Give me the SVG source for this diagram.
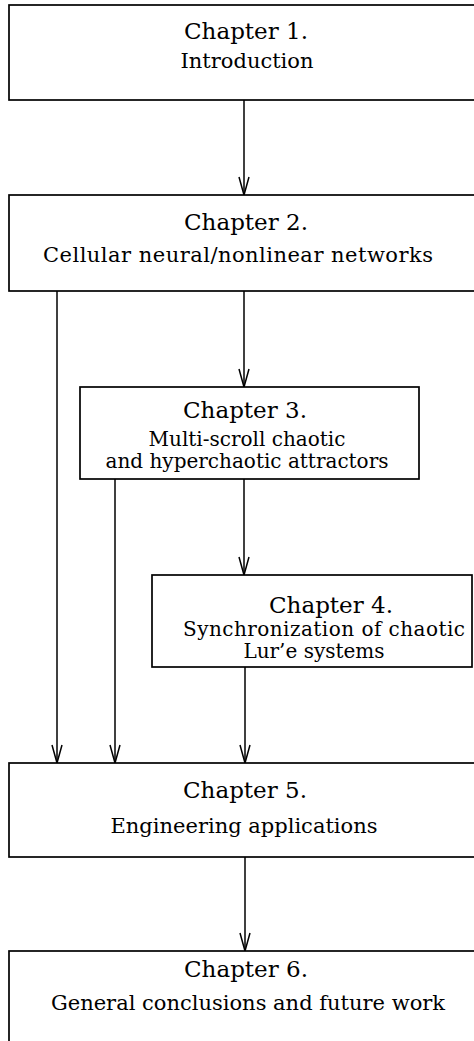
<svg xmlns="http://www.w3.org/2000/svg" width="474" height="1041" viewBox="0 0 474 1041">
<style>
.box{fill:#fff;stroke:#000;stroke-width:1.7}
.t1{font-family:"DejaVu Serif","Liberation Serif",serif;font-size:23px;fill:#000;text-anchor:middle}
.t2{font-family:"DejaVu Serif","Liberation Serif",serif;font-size:21px;fill:#000;text-anchor:middle}
.t3{font-family:"DejaVu Serif","Liberation Serif",serif;font-size:20px;fill:#000;text-anchor:middle}
.edge{fill:none;stroke:#000;stroke-width:1.5;marker-end:url(#arr)}
</style>
<defs>
<marker id="arr" markerUnits="userSpaceOnUse" markerWidth="22" markerHeight="14" viewBox="-20 -7 22 14" refX="0" refY="0" orient="auto">
<path d="M-18,-5 L0,0 L-18,5" fill="none" stroke="#000" stroke-width="1.5"/>
</marker>
</defs>
<rect width="474" height="1041" fill="#fff"/>
<g id="connectors">
<path class="edge" d="M244,100 V195"/>
<path class="edge" d="M57,291 V763"/>
<path class="edge" d="M244,291 V387"/>
<path class="edge" d="M115,479 V763"/>
<path class="edge" d="M244,479 V575"/>
<path class="edge" d="M245,667 V763"/>
<path class="edge" d="M245,857 V951"/>
</g>
<g id="ch1">
<rect class="box" x="9" y="5" width="480" height="95"/>
<text class="t1" x="246" y="39">Chapter 1.</text>
<text class="t2" x="247" y="68">Introduction</text>
</g>
<g id="ch2">
<rect class="box" x="9" y="195" width="480" height="96"/>
<text class="t1" x="246" y="230">Chapter 2.</text>
<text class="t2" x="238" y="262" textLength="390">Cellular neural/nonlinear networks</text>
</g>
<g id="ch3">
<rect class="box" x="80" y="387" width="339" height="92"/>
<text class="t1" x="245" y="418">Chapter 3.</text>
<text class="t3" x="247" y="446">Multi-scroll chaotic</text>
<text class="t3" x="247" y="468">and hyperchaotic attractors</text>
</g>
<g id="ch4">
<rect class="box" x="152" y="575" width="320" height="92"/>
<text class="t1" x="331" y="613">Chapter 4.</text>
<text class="t3" x="324" y="636" textLength="282">Synchronization of chaotic</text>
<text class="t3" x="314" y="658">Lur’e systems</text>
</g>
<g id="ch5">
<rect class="box" x="9" y="763" width="480" height="94"/>
<text class="t1" x="245" y="798">Chapter 5.</text>
<text class="t2" x="244" y="833">Engineering applications</text>
</g>
<g id="ch6">
<rect class="box" x="9" y="951" width="480" height="110"/>
<text class="t1" x="246" y="977">Chapter 6.</text>
<text class="t2" x="248" y="1010">General conclusions and future work</text>
</g>
</svg>
